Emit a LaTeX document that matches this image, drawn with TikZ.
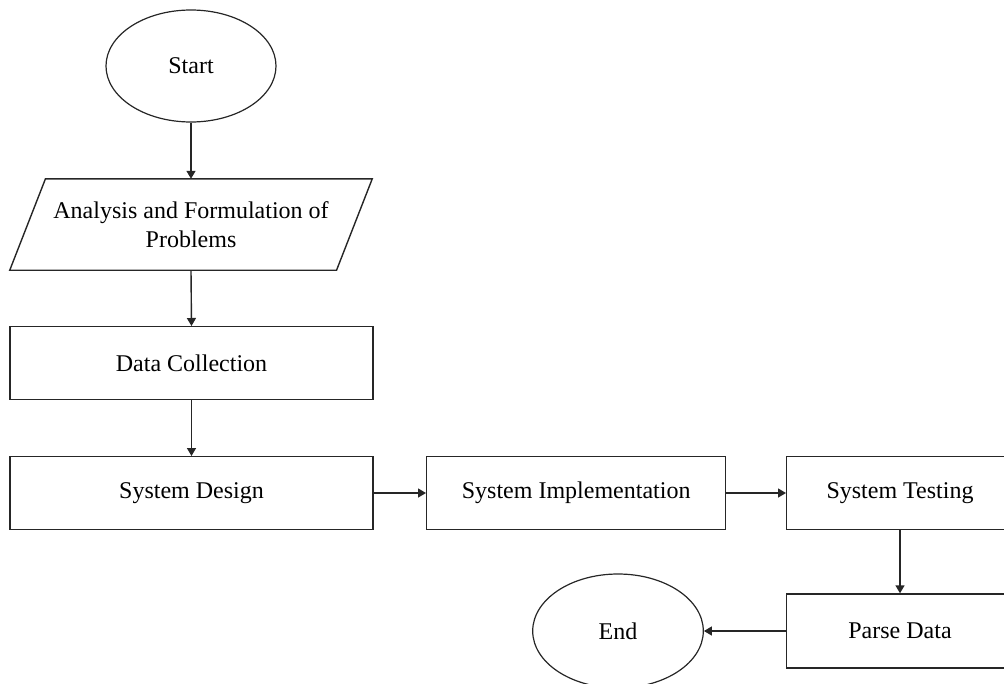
\documentclass[tikz,border=0pt]{standalone}
\usepackage{fontspec}
\setmainfont{Liberation Serif}
\usetikzlibrary{shapes.geometric,arrows.meta}
\begin{document}
\begin{tikzpicture}[x=1pt,y=-1pt,
  every node/.style={font=\fontsize{24}{29}\selectfont, inner sep=0pt, align=center},
  box/.style={draw=black!85, line width=1.4pt, rectangle},
  term/.style={draw=black!85, line width=1.2pt, ellipse},
  conn/.style={draw=black!85, line width=1.4pt, -{Triangle[length=8pt,width=9pt]}}]
\useasboundingbox (0,0) rectangle (1004,683);
\node[term, minimum width=170pt, minimum height=112pt] (start) at (191,66) {Start};
\node[minimum width=326.4pt, minimum height=91pt] (anal) at (191,224.5) {Analysis and Formulation of\\Problems};
\draw[black!85, line width=1.4pt] ([xshift=-17.85pt]anal.south west) -- ([xshift=17.85pt]anal.north west) -- ([xshift=17.85pt]anal.north east) -- ([xshift=-17.85pt]anal.south east) -- cycle;
\node[box, minimum width=363pt, minimum height=72.6pt] (data) at (191.5,363) {Data Collection};
\node[box, minimum width=363pt, minimum height=72.6pt] (design) at (191.5,493) {System Design};
\node[box, minimum width=299pt, minimum height=72.6pt] (impl) at (576.2,493) {System Implementation};
\node[box, minimum width=226.6pt, minimum height=72.6pt] (test) at (900,493) {System Testing};
\node[box, minimum width=226.6pt, minimum height=74pt] (parse) at (900,631) {Parse Data};
\node[term, minimum width=170.6pt, minimum height=114pt] (end) at (618,631) {End};
\draw[conn] (start.south) -- (anal.north);
\draw[conn] (anal.south) -- (data.north);
\draw[conn] (data.south) -- (design.north);
\draw[conn] (design.east) -- (impl.west);
\draw[conn] (impl.east) -- (test.west);
\draw[conn] (test.south) -- (parse.north);
\draw[conn] (parse.west) -- (end.east);
\end{tikzpicture}
\end{document}
